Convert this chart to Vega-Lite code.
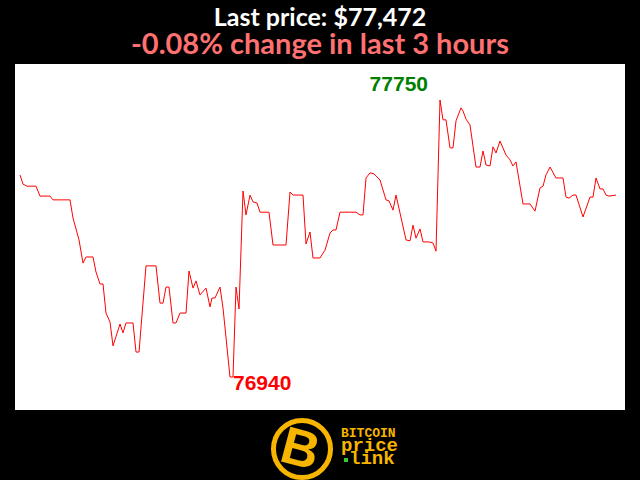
{
  "$schema": "https://vega.github.io/schema/vega-lite/v6.json",
  "background": "black",
  "autosize": {"type": "pad"},
  "padding": {"left": 15, "top": 6, "right": 15, "bottom": 0},
  "spacing": 0,
  "config": {"view": {"stroke": null}, "concat": {"spacing": 0}},
  "title": {
    "text": "Last price: $77,472",
    "subtitle": "-0.08% change in last 3 hours",
    "anchor": "middle",
    "font": "Lato",
    "fontSize": 25,
    "fontWeight": "bold",
    "color": "#ffffff",
    "subtitleFont": "Lato",
    "subtitleFontSize": 29,
    "subtitleFontWeight": "bold",
    "subtitleColor": "#ff7070",
    "subtitlePadding": 0,
    "offset": 4
  },
  "vconcat": [
    {
      "width": 610,
      "height": 346,
      "view": {"fill": "white", "stroke": null},
      "data": {"values": [
        {"step": 0, "price": 77531}, {"step": 3, "price": 77504}, {"step": 7, "price": 77498}, {"step": 16, "price": 77498},
        {"step": 20, "price": 77469}, {"step": 30, "price": 77469}, {"step": 33, "price": 77458}, {"step": 50, "price": 77458},
        {"step": 53, "price": 77405}, {"step": 59, "price": 77341}, {"step": 63, "price": 77273}, {"step": 66, "price": 77291},
        {"step": 73, "price": 77291}, {"step": 76, "price": 77247}, {"step": 80, "price": 77212}, {"step": 83, "price": 77212},
        {"step": 86, "price": 77127}, {"step": 90, "price": 77101}, {"step": 93, "price": 77031}, {"step": 100, "price": 77095},
        {"step": 103, "price": 77069}, {"step": 106, "price": 77098}, {"step": 113, "price": 77098}, {"step": 116, "price": 77013},
        {"step": 119, "price": 77013}, {"step": 126, "price": 77265}, {"step": 136, "price": 77265}, {"step": 140, "price": 77156},
        {"step": 143, "price": 77156}, {"step": 146, "price": 77203}, {"step": 149, "price": 77203}, {"step": 153, "price": 77098},
        {"step": 156, "price": 77098}, {"step": 160, "price": 77127}, {"step": 166, "price": 77127}, {"step": 169, "price": 77250},
        {"step": 173, "price": 77200}, {"step": 176, "price": 77221}, {"step": 180, "price": 77180}, {"step": 186, "price": 77200},
        {"step": 190, "price": 77145}, {"step": 192, "price": 77171}, {"step": 195, "price": 77171}, {"step": 200, "price": 77203},
        {"step": 203, "price": 77142}, {"step": 210, "price": 76940}, {"step": 213, "price": 76940}, {"step": 216, "price": 77203},
        {"step": 219, "price": 77139}, {"step": 223, "price": 77484}, {"step": 226, "price": 77414}, {"step": 230, "price": 77472},
        {"step": 233, "price": 77452}, {"step": 237, "price": 77449}, {"step": 240, "price": 77422}, {"step": 249, "price": 77422},
        {"step": 253, "price": 77326}, {"step": 266, "price": 77326}, {"step": 270, "price": 77481}, {"step": 273, "price": 77472},
        {"step": 283, "price": 77472}, {"step": 286, "price": 77329}, {"step": 290, "price": 77364}, {"step": 293, "price": 77288},
        {"step": 300, "price": 77288}, {"step": 305, "price": 77311}, {"step": 310, "price": 77361}, {"step": 313, "price": 77370},
        {"step": 316, "price": 77370}, {"step": 320, "price": 77422}, {"step": 336, "price": 77422}, {"step": 340, "price": 77414},
        {"step": 343, "price": 77414}, {"step": 346, "price": 77522}, {"step": 350, "price": 77537}, {"step": 354, "price": 77534},
        {"step": 360, "price": 77516}, {"step": 366, "price": 77458}, {"step": 369, "price": 77455}, {"step": 373, "price": 77428},
        {"step": 376, "price": 77472}, {"step": 386, "price": 77341}, {"step": 390, "price": 77338}, {"step": 393, "price": 77384},
        {"step": 396, "price": 77346}, {"step": 400, "price": 77373}, {"step": 403, "price": 77335}, {"step": 409, "price": 77335},
        {"step": 413, "price": 77332}, {"step": 416, "price": 77308}, {"step": 420, "price": 77750}, {"step": 423, "price": 77692},
        {"step": 426, "price": 77692}, {"step": 430, "price": 77610}, {"step": 433, "price": 77610}, {"step": 436, "price": 77689},
        {"step": 441, "price": 77727}, {"step": 443, "price": 77718}, {"step": 446, "price": 77694}, {"step": 450, "price": 77677},
        {"step": 456, "price": 77554}, {"step": 460, "price": 77554}, {"step": 463, "price": 77601}, {"step": 466, "price": 77560},
        {"step": 470, "price": 77557}, {"step": 473, "price": 77613}, {"step": 476, "price": 77595}, {"step": 480, "price": 77630},
        {"step": 486, "price": 77589}, {"step": 490, "price": 77575}, {"step": 493, "price": 77557}, {"step": 496, "price": 77569},
        {"step": 503, "price": 77446}, {"step": 510, "price": 77446}, {"step": 515, "price": 77425}, {"step": 520, "price": 77493},
        {"step": 523, "price": 77498}, {"step": 526, "price": 77531}, {"step": 530, "price": 77554}, {"step": 536, "price": 77522},
        {"step": 543, "price": 77522}, {"step": 546, "price": 77466}, {"step": 549, "price": 77463}, {"step": 553, "price": 77472},
        {"step": 556, "price": 77472}, {"step": 563, "price": 77408}, {"step": 570, "price": 77466}, {"step": 573, "price": 77466},
        {"step": 576, "price": 77522}, {"step": 580, "price": 77490}, {"step": 583, "price": 77490}, {"step": 586, "price": 77472},
        {"step": 589, "price": 77469}, {"step": 596, "price": 77472}
      ]},
      "encoding": {
        "x": {"field": "step", "type": "quantitative", "axis": null, "scale": {"domain": [-5, 605], "nice": false, "zero": false}},
        "y": {"field": "price", "type": "quantitative", "axis": null, "scale": {"domain": [76843.5, 77855.3], "nice": false, "zero": false}}
      },
      "layer": [
        {"mark": {"type": "line", "color": "#ff0000", "strokeWidth": 1, "clip": true}},
        {
          "transform": [
            {"joinaggregate": [{"op": "max", "field": "price", "as": "maxp"}]},
            {"filter": "datum.price == datum.maxp"}
          ],
          "mark": {"type": "text", "align": "right", "baseline": "alphabetic", "dx": -12, "dy": -9, "font": "Liberation Sans", "fontWeight": "bold", "fontSize": 21, "color": "#008000"},
          "encoding": {"text": {"field": "price", "type": "quantitative", "format": "d"}}
        },
        {
          "transform": [
            {"joinaggregate": [{"op": "min", "field": "price", "as": "minp"}]},
            {"filter": "datum.price == datum.minp"},
            {"aggregate": [{"op": "max", "field": "step", "as": "step"}], "groupby": ["price"]}
          ],
          "mark": {"type": "text", "align": "left", "baseline": "alphabetic", "dx": 0, "dy": 13, "font": "Liberation Sans", "fontWeight": "bold", "fontSize": 21, "color": "#ff0000"},
          "encoding": {"text": {"field": "price", "type": "quantitative", "format": "d"}}
        }
      ]
    },
    {
      "width": 610,
      "height": 70,
      "encoding": {
        "x": {"field": "lx", "type": "quantitative", "axis": null, "scale": {"domain": [0, 610], "nice": false, "zero": false}},
        "y": {"field": "ly", "type": "quantitative", "axis": null, "scale": {"domain": [0, 70], "nice": false, "zero": false, "reverse": true}}
      },
      "layer": [
        {
          "data": {"values": [{"lx": 287, "ly": 35}]},
          "mark": {"type": "point", "shape": "circle", "size": 3250, "fill": "black", "stroke": "#f7b500", "strokeWidth": 5, "opacity": 1}
        },
        {
          "data": {"values": [{"lx": 285, "ly": 36, "t": "B"}]},
          "mark": {"type": "text", "align": "center", "baseline": "middle", "angle": 15, "font": "Liberation Sans", "fontWeight": "bold", "fontSize": 52, "color": "#f7b500"},
          "encoding": {"text": {"field": "t"}}
        },
        {
          "data": {"values": [{"lx": 326, "ly": 23, "t": "BITCOIN"}]},
          "mark": {"type": "text", "align": "left", "baseline": "alphabetic", "font": "Liberation Mono", "fontWeight": "bold", "fontSize": 13, "color": "#f7b500"},
          "encoding": {"text": {"field": "t"}}
        },
        {
          "data": {"values": [{"lx": 326, "ly": 37, "t": "price"}, {"lx": 334, "ly": 50, "t": "link"}]},
          "mark": {"type": "text", "align": "left", "baseline": "alphabetic", "font": "Liberation Mono", "fontWeight": "bold", "fontSize": 19, "color": "#f7b500"},
          "encoding": {"text": {"field": "t"}}
        },
        {
          "data": {"values": [{"lx": 331, "ly": 46}]},
          "mark": {"type": "point", "shape": "square", "size": 16, "filled": true, "color": "#33cc33", "opacity": 1}
        }
      ]
    }
  ]
}
